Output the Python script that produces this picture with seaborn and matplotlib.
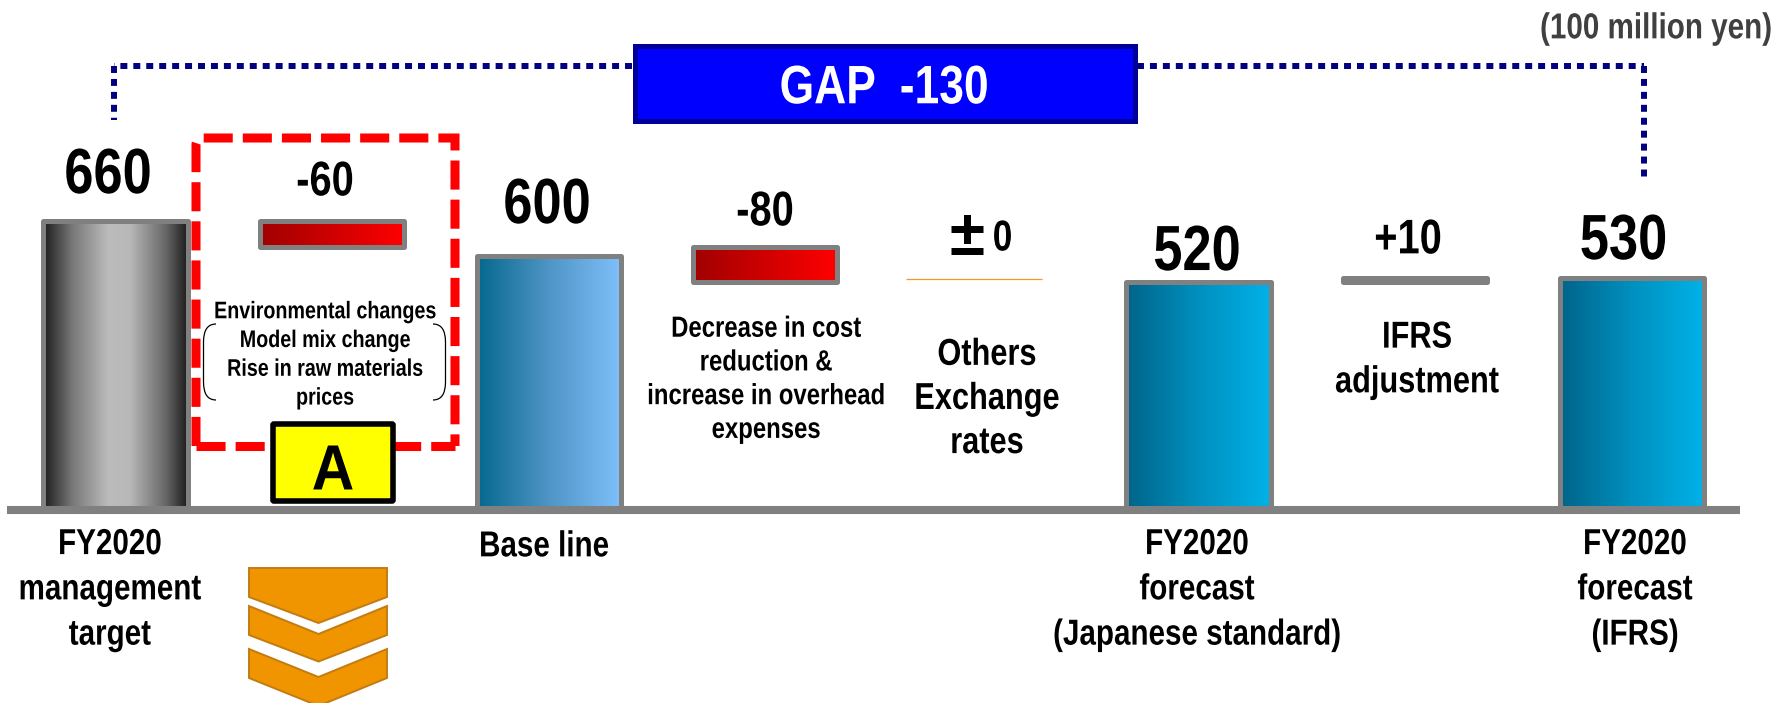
import numpy as np
import pandas as pd
import matplotlib
matplotlib.use("Agg")
import matplotlib.pyplot as plt
import seaborn as sns
from matplotlib.colors import LinearSegmentedColormap
from matplotlib.patches import FancyBboxPatch, PathPatch, Polygon, Rectangle
from matplotlib.path import Path
from matplotlib.patheffects import AbstractPathEffect
from matplotlib.text import Text
from matplotlib.transforms import Affine2D, Bbox

categories = ["FY2020 management target", "Environmental", "Base line", "Cost and overhead",
              "Others", "FY2020 forecast (JP)", "IFRS adjustment", "FY2020 forecast (IFRS)"]
bar_low = [0, 600, 0, 520, 520, 0, 520, 0]
bar_high = [660, 660, 581, 600, 520, 520, 530, 530]
value_labels = ["660", "-60", "600", "-80", "0", "520", "+10", "530"]
others_line_level = 527
gradient_kinds = ["gray", "red", "sky", "red", None, "blue", "blue", "blue"]

W, H = 1788, 703
sns.set_theme(style="white")
FONT = ["Liberation Sans", "DejaVu Sans"]
plt.rcParams["font.family"] = FONT
plt.rcParams["font.weight"] = "bold"

fig = plt.figure(figsize=(W / 100, H / 100), dpi=100, facecolor="white")
ax = fig.add_axes([0, 0, 1, 1])
STEP = 216.6
UNIT = 660 / 289

def set_limits():
    ax.set_xlim(-115.5 / STEP, (W - 115.5) / STEP)
    ax.set_ylim(-(H - 510) * UNIT, 510 * UNIT)

df = pd.DataFrame({"cat": categories, "h": bar_high})
sns.barplot(data=df, x="cat", y="h", order=categories, width=0.665,
            facecolor="none", edgecolor="#808080", linewidth=3.6, saturation=1,
            errorbar=None, ax=ax, zorder=3)
set_limits()
ax.axis("off")

cmaps = {
    "gray": LinearSegmentedColormap.from_list("g", [(0, "#1c1c1c"), (.2, "#777777"), (.45, "#bcbcbc"),
                                                    (.6, "#b8b8b8"), (.85, "#666666"), (1, "#1c1c1c")]),
    "red": LinearSegmentedColormap.from_list("r", ["#a00000", "#ff0000"]),
    "sky": LinearSegmentedColormap.from_list("s", ["#05688e", "#4f95c6", "#7fc1fb"]),
    "blue": LinearSegmentedColormap.from_list("b", ["#00648a", "#0090bf", "#00b2e8"]),
}
ramp = np.linspace(0, 1, 256).reshape(1, -1)
for patch, kind, low, high in zip(list(ax.patches), gradient_kinds, bar_low, bar_high):
    patch.set_y(low)
    patch.set_height(high - low)
    patch.set_joinstyle("round")
    if kind is None:
        patch.set_visible(False)
        continue
    x0, w = patch.get_x(), patch.get_width()
    ax.imshow(ramp, cmap=cmaps[kind], extent=(x0, x0 + w, low, high), aspect="auto", zorder=2,
              interpolation="bilinear")
set_limits()

px = Affine2D().scale(1 / W, -1 / H).translate(0, 1) + fig.transFigure


class Narrow(AbstractPathEffect):
    """Condense real text horizontally about its anchor, like a narrow typeface."""
    def __init__(self, cx, sx=0.82):
        super().__init__()
        self.cx, self.sx = cx, sx

    def draw_path(self, renderer, gc, tpath, affine, rgbFace=None):
        squeeze = Affine2D().translate(-self.cx, 0).scale(self.sx, 1).translate(self.cx, 0)
        renderer.draw_path(gc, tpath, affine + squeeze, rgbFace)


def T(x, y, s, size, color="black", sx=0.82, ha="center", **kw):
    t = ax.text(x, y + 0.11 * size, s, transform=px, fontsize=size, color=color, ha=ha, va="center",
                fontweight="bold", family=FONT, zorder=8, **kw)
    if sx != 1:
        t.set_path_effects([Narrow(x, sx)])

        def extent(renderer=None, dpi=None, _t=t, _x=x, _s=sx):
            b = Text.get_window_extent(_t, renderer, dpi)
            return Bbox.from_extents(_x + (b.x0 - _x) * _s, b.y0, _x + (b.x1 - _x) * _s, b.y1)
        t.get_window_extent = extent
    return t


# baseline
ax.plot([7, 1740], [510, 510], transform=px, color="#808080", lw=5.8, solid_capstyle="butt", zorder=4)
# thin line of the zero-change column
ax.hlines(others_line_level, 4 - 0.35, 4 + 0.277, color="#f09a20", lw=0.9, zorder=3)

# dotted bracket
dots = dict(color="#000080", lw=4.3, linestyle=(0, (7 / 6, 6 / 6)), dash_capstyle="butt", zorder=3, transform=px)
ax.plot([632, 114], [65.5, 65.5], **dots)
ax.plot([114, 114], [65.5, 120], **dots)
ax.plot([1137, 1644], [65.5, 65.5], **dots)
ax.plot([1644, 1644], [65.5, 179], **dots)

# GAP box
ax.add_patch(Rectangle((634.5, 45.5), 500, 75, transform=px, fc="#0000ff", ec="#000099", lw=3.6, zorder=5))
T(884, 85, "GAP  -130", 39, "white")
T(1772, 26, "(100 million yen)", 26, "#404040", ha="right")

# red dashed frame
red = dict(transform=px, color="#ff0000", lw=6.5, linestyle=(0, (29 / 9, 10 / 9)), dash_capstyle="butt", zorder=5)
frame = Path([(196, 446), (196, 145), (196, 138), (203, 138), (455, 138), (455, 446)],
             [Path.MOVETO, Path.LINETO, Path.CURVE3, Path.CURVE3, Path.LINETO, Path.LINETO])
ax.add_patch(PathPatch(frame, fill=False, ec="#ff0000", lw=6.5, linestyle=(0, (29 / 9, 10 / 9)),
                       transform=px, zorder=5, capstyle="butt"))
ax.plot([196, 455], [446, 446], **red)

# yellow A box
ax.add_patch(FancyBboxPatch((273, 424), 120, 77, boxstyle="round,pad=0,rounding_size=1", transform=px,
                            fc="#ffff00", ec="black", lw=4, zorder=6))
T(333, 467.4, "A", 46, sx=0.92)

# round brackets
for xo, xi in [(203.5, 216), (445.5, 433)]:
    verts = [(xi, 324), (xo, 324), (xo, 342), (xo, 382), (xo, 400), (xi, 400)]
    codes = [Path.MOVETO, Path.CURVE3, Path.CURVE3, Path.LINETO, Path.CURVE3, Path.CURVE3]
    ax.add_patch(PathPatch(Path(verts, codes), fill=False, ec="black", lw=0.9, transform=px, zorder=7))

# chevrons
cx = 318.5
for top, shoulder, tip, flat in [(568, 597, 623, True), (606, 635, 661.5, False), (649, 678, 706, False)]:
    if flat:
        pts = [(249, top), (387, top), (387, shoulder), (cx, tip), (249, shoulder)]
    else:
        pts = [(249, top), (cx, top + 28), (387, top), (387, shoulder), (cx, tip), (249, shoulder)]
    ax.add_patch(Polygon(pts, closed=True, transform=px, fc="#f09400", ec="#c27c12", lw=1.4, zorder=5))

# value labels
big, small = 46, 35
T(108, 171, value_labels[0], big)
T(325, 179, value_labels[1], small)
T(547, 201, value_labels[2], big)
T(765, 209, value_labels[3], small)
T(967, 233, "±", 46, sx=1)
T(1002.5, 236, value_labels[4], 31)
T(1197, 248, value_labels[5], big)
T(1408, 237, value_labels[6], small)
T(1623.5, 237, value_labels[7], big)

# captions
T(110, 587, "FY2020\nmanagement\ntarget", 26, linespacing=1.38)
T(544, 544, "Base line", 26)
T(1197, 587, "FY2020\nforecast\n(Japanese standard)", 26, linespacing=1.38)
T(1635, 587, "FY2020\nforecast\n(IFRS)", 26, linespacing=1.38)
T(325, 353, "Environmental changes\nModel mix change\nRise in raw materials\nprices", 17.3, linespacing=1.32)
T(766, 377, "Decrease in cost\nreduction &\nincrease in overhead\nexpenses", 21, linespacing=1.26)
T(987, 396, "Others\nExchange\nrates", 27, linespacing=1.29)
T(1417, 357, "IFRS\nadjustment", 27, linespacing=1.31)

fig.savefig("out.png", dpi=100, facecolor="white")
